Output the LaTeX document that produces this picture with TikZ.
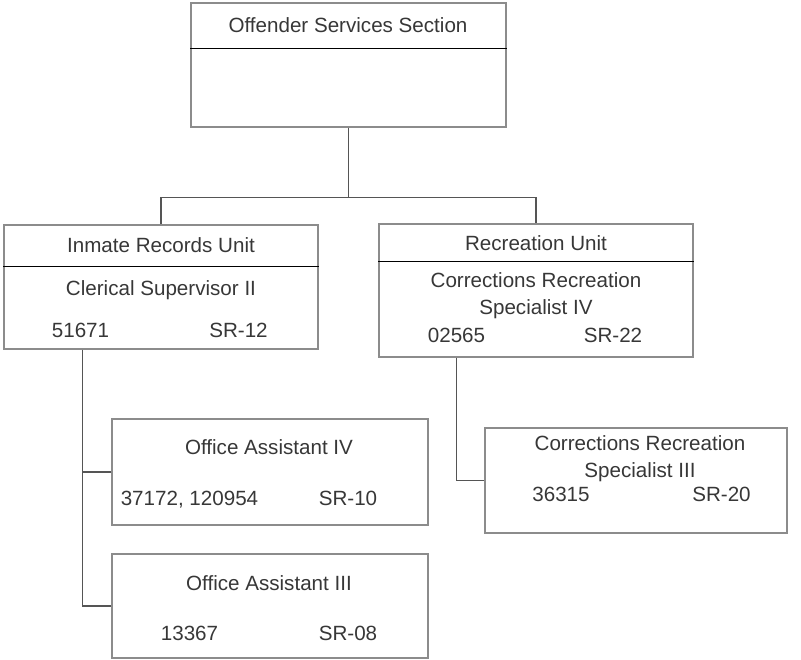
\documentclass[tikz,border=0pt]{standalone}
\usepackage{fontspec}
\setmainfont{Liberation Sans}
\definecolor{boxgray}{RGB}{140,140,140}
\definecolor{linegray}{RGB}{85,85,85}
\definecolor{txtgray}{RGB}{55,55,55}
\tikzset{
  orgbox/.style={draw=boxgray, line width=1.4pt, rectangle, inner sep=0pt},
  divider/.style={draw=black, line width=1.3pt},
  link/.style={draw=linegray, line width=1.4pt},
  txt/.style={anchor=base, inner sep=0pt, text=txtgray, font=\fontsize{20.6}{27}\selectfont}
}
\begin{document}
\begin{tikzpicture}[x=1pt,y=-1pt]
            \useasboundingbox (0,0) rectangle (801,660);
            % boxes
            \node[orgbox, minimum width=315pt, minimum height=124pt] (oss) at (348.5,65) {};
            \node[orgbox, minimum width=314pt, minimum height=124pt] (iru) at (161,287) {};
            \node[orgbox, minimum width=314pt, minimum height=133pt] (ru) at (536,290.5) {};
            \node[orgbox, minimum width=316pt, minimum height=106pt] (oa4) at (270,472) {};
            \node[orgbox, minimum width=316pt, minimum height=104pt] (oa3) at (270,606) {};
            \node[orgbox, minimum width=302pt, minimum height=105pt] (crs3) at (636,480.5) {};
            % title dividers
            \draw[divider] ([yshift=-46pt]oss.north west) -- ([yshift=-46pt]oss.north east);
            \draw[divider] ([yshift=-42pt]iru.north west) -- ([yshift=-42pt]iru.north east);
            \draw[divider] ([yshift=-38pt]ru.north west) -- ([yshift=-38pt]ru.north east);
            % connectors
            \draw[link] (oss.south) -- ++(0,70) coordinate (bus);
            \draw[link] (iru.north) |- (bus) -| (ru.north);
            \draw[link] ([xshift=79pt]iru.south west) coordinate (irutrunk) |- (oa3.west);
            \draw[link] (oa4.west) -- (oa4.west -| irutrunk);
            \draw[link] ([xshift=78pt]ru.south west) |- (crs3.west);
            % texts
            \node[txt] (osst) at (348,32.5) {Offender Services Section};
            \node[txt] (irut) at (161,252.5) {Inmate Records Unit};
            \node[txt] (irup) at (161,295.5) {Clerical Supervisor II};
            \node[txt] (irun) at (80.5,337.5) {51671};
            \node[txt] (irus) at (238.5,337.5) {SR-12};
            \node[txt] (rut) at (536,250.5) {Recreation Unit};
            \node[txt] (rupa) at (536,287.5) {Corrections Recreation};
            \node[txt] (rupb) at (536,314.5) {Specialist IV};
            \node[txt] (run) at (456.5,342.5) {02565};
            \node[txt] (rus) at (613,342.5) {SR-22};
            \node[txt] (oa4t) at (269,454.5) {Office Assistant IV};
            \node[txt] (oa4n) at (189.5,505.5) {37172, 120954};
            \node[txt] (oa4s) at (348,505.5) {SR-10};
            \node[txt] (oa3t) at (269,590.5) {Office Assistant III};
            \node[txt] (oa3n) at (189.5,640.5) {13367};
            \node[txt] (oa3s) at (348,640.5) {SR-08};
            \node[txt] (crs3a) at (640,450.5) {Corrections Recreation};
            \node[txt] (crs3b) at (640,477.5) {Specialist III};
            \node[txt] (crs3n) at (561,501.5) {36315};
            \node[txt] (crs3s) at (721.5,501.5) {SR-20};
\end{tikzpicture}
\end{document}
